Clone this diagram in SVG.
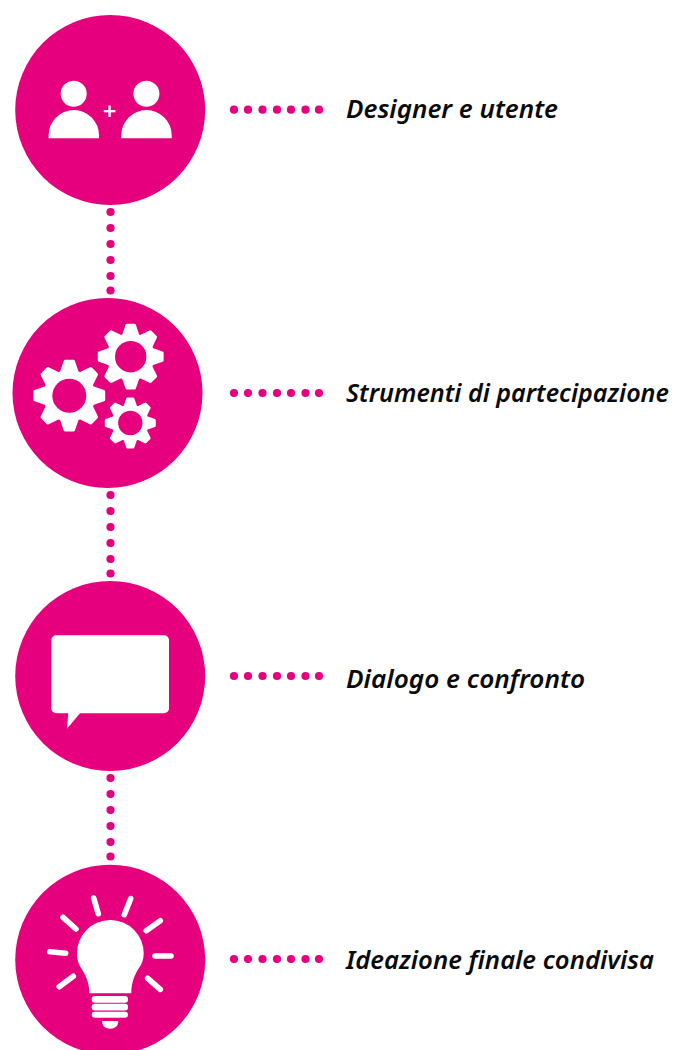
<svg xmlns="http://www.w3.org/2000/svg" width="675" height="1050" viewBox="0 0 675 1050">
<style>
.disc{fill:#e6007e}
.w{fill:#fff}
.dot{fill:#e6007e}
.lb{font-family:"Noto Sans","Open Sans",sans-serif;font-style:italic;font-weight:600;font-size:24.5px;fill:#0a0a0a}
.ray{stroke:#fff;stroke-width:5.6;stroke-linecap:round;fill:none}
.hole{fill:#e6007e}
</style>
<defs>
<circle id="d" class="dot" r="4.1"/>
<g id="hr"><use href="#d" x="234"/><use href="#d" x="248"/><use href="#d" x="262.5"/><use href="#d" x="277"/><use href="#d" x="291"/><use href="#d" x="305.5"/><use href="#d" x="319"/></g>
<g id="vr"><use href="#d" y="0"/><use href="#d" y="16"/><use href="#d" y="32"/><use href="#d" y="48"/><use href="#d" y="64"/><use href="#d" y="78.5"/></g>
<path id="t" class="w" stroke="#fff" stroke-width="3.4" stroke-linejoin="round" d="M-7.5,-24 L-4,-34.2 L4,-34.2 L7.5,-24Z"/>
<g id="gear"><circle class="w" r="26"/><use href="#t"/><use href="#t" transform="rotate(45)"/><use href="#t" transform="rotate(90)"/><use href="#t" transform="rotate(135)"/><use href="#t" transform="rotate(180)"/><use href="#t" transform="rotate(225)"/><use href="#t" transform="rotate(270)"/><use href="#t" transform="rotate(315)"/></g>
<path id="body" class="w" d="M-25.2,28.3 V25.2 A25.2,25.2 0 0 1 25.2,25.2 V28.3Z"/>
</defs>
<g id="connectors">
<use href="#hr" y="109.7"/><use href="#hr" y="393"/><use href="#hr" y="676"/><use href="#hr" y="959"/>
<use href="#vr" x="110.5" y="212"/><use href="#vr" x="110.5" y="495"/><use href="#vr" x="110.5" y="778"/>
</g>
<g id="node-designer">
<circle class="disc" cx="110.2" cy="110" r="95"/>
<circle class="w" cx="73.7" cy="93.7" r="13"/><circle class="w" cx="146.4" cy="93.7" r="13"/>
<use href="#body" x="73.8" y="110"/><use href="#body" x="146.5" y="110"/>
<text x="109.7" y="119.6" text-anchor="middle" font-family="Noto Sans,sans-serif" font-weight="600" font-size="24" fill="#fff">+</text>
<text class="lb" x="346" y="118" textLength="212" lengthAdjust="spacingAndGlyphs">Designer e utente</text>
</g>
<g id="node-strumenti">
<circle class="disc" cx="107.5" cy="393" r="95"/>
<use href="#gear" transform="translate(69.3,395.7)"/><circle class="hole" cx="69.3" cy="395.7" r="17"/>
<use href="#gear" transform="translate(130.7,356.7) scale(.917)"/><circle class="hole" cx="130.7" cy="356.7" r="15.7"/>
<use href="#gear" transform="translate(130.3,423) scale(.71)"/><circle class="hole" cx="130.3" cy="423" r="12.2"/>
<text class="lb" x="346" y="402" textLength="323" lengthAdjust="spacingAndGlyphs">Strumenti di partecipazione</text>
</g>
<g id="node-dialogo">
<circle class="disc" cx="110.2" cy="676" r="95"/>
<rect class="w" x="51.3" y="635.3" width="117.7" height="78" rx="5"/>
<path class="w" d="M68.3,712 L67,728.7 L81,712Z"/>
<text class="lb" x="346" y="688" textLength="239" lengthAdjust="spacingAndGlyphs">Dialogo e confronto</text>
</g>
<g id="node-ideazione">
<circle class="disc" cx="110.2" cy="959.7" r="95"/>
<path class="w" d="M89.3,993.3 C89.5,982 85,974 81,968 C78,963.5 77,959 77,953.3 A33.3,33.3 0 0 1 143.7,953.3 C143.7,959 142,964 139,968 C135,974 131.3,982 131.3,993.3Z"/>
<rect class="w" x="91.7" y="996" width="36.3" height="6.7" rx="3"/>
<rect class="w" x="91.7" y="1003.7" width="36.3" height="6.7" rx="3"/>
<rect class="w" x="91.7" y="1011.7" width="36.3" height="6" rx="3"/>
<path class="w" d="M102,1021 H118.3 C118.3,1026 115,1028.7 110.2,1028.7 C105.4,1028.7 102,1026 102,1021Z"/>
<path class="ray" d="M93.7,898 L98.3,913.7 M130.7,898.7 L124.3,914.7 M160.3,920.7 L146.3,930.7 M171,956 H155 M160.3,989.3 L147.7,978.3 M73.3,976.3 L59.3,986.7 M65.7,953.3 L49.7,951.7 M76,929 L63,917.3"/>
<text class="lb" x="346" y="969" textLength="308" lengthAdjust="spacingAndGlyphs">Ideazione finale condivisa</text>
</g>
</svg>
